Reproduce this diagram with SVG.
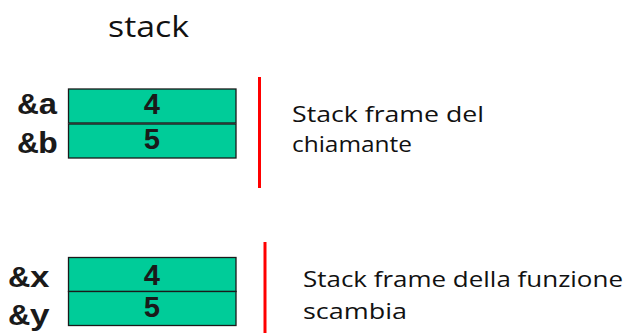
<svg xmlns="http://www.w3.org/2000/svg" width="629" height="333" viewBox="0 0 629 333">
<style>
.cell{fill:#00cc99;stroke:#1a1a1a;stroke-width:1.3}
.mono{font-family:"Liberation Mono","Courier New",monospace;font-weight:bold;font-size:29px;fill:#1a1a1a}
.val{text-anchor:middle}
.sans{font-family:"Open Sans","Liberation Sans",sans-serif;fill:#111}
.red{stroke:#ff0000;stroke-width:3}
</style>
<rect width="629" height="333" fill="#fff"/>
<text class="sans" x="108" y="37" font-size="30" textLength="81" lengthAdjust="spacingAndGlyphs">stack</text>
<g id="frame1">
<rect class="cell" x="68.5" y="89" width="167.5" height="34"/>
<rect class="cell" x="68.5" y="124" width="167.5" height="34"/>
<text class="mono" x="18" y="114" textLength="40" lengthAdjust="spacingAndGlyphs">&amp;a</text>
<text class="mono" x="18" y="153" textLength="40" lengthAdjust="spacingAndGlyphs">&amp;b</text>
<text class="mono val" x="152" y="114">4</text>
<text class="mono val" x="152" y="149">5</text>
</g>
<g id="frame2">
<rect class="cell" x="68.5" y="257.5" width="167.5" height="34"/>
<rect class="cell" x="68.5" y="291.5" width="167.5" height="34"/>
<text class="mono" x="9" y="287" textLength="41" lengthAdjust="spacingAndGlyphs">&amp;x</text>
<text class="mono" x="9" y="325" textLength="41" lengthAdjust="spacingAndGlyphs">&amp;y</text>
<text class="mono val" x="152" y="285">4</text>
<text class="mono val" x="152" y="317">5</text>
</g>
<g id="connectors">
<line class="red" x1="259.5" y1="77" x2="259.5" y2="188"/>
<line class="red" x1="265" y1="242" x2="265" y2="333"/>
</g>
<g id="label1">
<text class="sans" x="292" y="122" font-size="21" textLength="192" lengthAdjust="spacingAndGlyphs">Stack frame del</text>
<text class="sans" x="292" y="152" font-size="21" textLength="120" lengthAdjust="spacingAndGlyphs">chiamante</text>
</g>
<g id="label2">
<text class="sans" x="303" y="287" font-size="21" textLength="320" lengthAdjust="spacingAndGlyphs">Stack frame della funzione</text>
<text class="sans" x="303" y="319" font-size="21" textLength="104" lengthAdjust="spacingAndGlyphs">scambia</text>
</g>
</svg>
